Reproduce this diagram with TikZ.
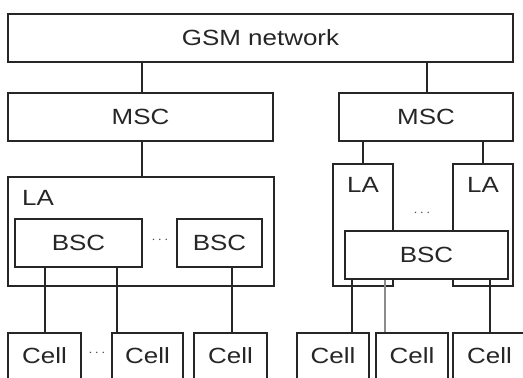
\documentclass[tikz,border=0pt]{standalone}
\usepackage{fontspec}
\setmainfont{Liberation Sans}[FakeStretch=1.18]
\begin{document}
\begin{tikzpicture}[x=1pt,y=-1pt,
  box/.style={draw=black!85,line width=1.2pt,fill=white,inner sep=0pt,font=\fontsize{22}{25}\selectfont,text=black!85},
  cellbox/.style={box,minimum height=62pt,text height=30pt,text depth=32pt},
  lab/.style={inner sep=0pt,font=\fontsize{22}{25}\selectfont,text=black!85},
  link/.style={draw=black!85,line width=1.2pt},
  dots/.style={inner sep=0pt,font=\fontsize{14}{16}\selectfont,text=black!70}]
\clip (0,0) rectangle (523,378);
\fill[white] (0,0) rectangle (523,378);
% top
\node[box,minimum width=505pt,minimum height=48pt] (gsm) at (260.5,38) {GSM network};
\node[box,minimum width=265pt,minimum height=48pt] (mscl) at (140.5,117) {MSC};
\node[box,minimum width=174pt,minimum height=48pt] (mscr) at (426,117) {MSC};
% left LA
\node[box,minimum width=266pt,minimum height=109pt] (lal) at (141,231.5) {};
\node[lab,anchor=west] (lallab) at (22,198) {LA};
\node[box,minimum width=127pt,minimum height=48pt] (bsc1) at (78.5,243) {BSC};
\node[box,minimum width=85pt,minimum height=48pt] (bsc2) at (219.5,243) {BSC};
\node[dots] (dl) at (160,240) {$\cdots$};
% right LAs
\node[box,minimum width=60pt,minimum height=122pt] (lar1) at (363,225) {};
\node[box,minimum width=60pt,minimum height=122pt] (lar2) at (483,225) {};
\node[lab] (lar1lab) at (363,185) {LA};
\node[lab] (lar2lab) at (483,185) {LA};
\node[dots] (dr) at (422,213) {$\cdots$};
\node[box,minimum width=163pt,minimum height=48pt] (bscr) at (426.5,255) {BSC};
% cells
\node[cellbox,minimum width=73pt] (c1) at (44.5,364) {Cell};
\node[cellbox,minimum width=71pt] (c2) at (147.5,364) {Cell};
\node[cellbox,minimum width=73pt] (c3) at (230.5,364) {Cell};
\node[cellbox,minimum width=72pt] (c4) at (333,364) {Cell};
\node[cellbox,minimum width=72pt] (c5) at (412,364) {Cell};
\node[cellbox,minimum width=73pt] (c6) at (489.5,364) {Cell};
\node[dots] (dc) at (97,353) {$\cdots$};
% connector x positions
\coordinate (xg1) at (142,0);
\coordinate (xg2) at (427,0);
\coordinate (xa) at (45,0);
\coordinate (xb) at (117,0);
\coordinate (xc) at (232,0);
\coordinate (xd) at (352,0);
\coordinate (xe) at (385,0);
\coordinate (xf) at (490,0);
% connectors
\draw[link] (gsm.south -| xg1) -- (mscl.north -| xg1);
\draw[link] (gsm.south -| xg2) -- (mscr.north -| xg2);
\draw[link] (mscl.south -| xg1) -- (lal.north -| xg1);
\draw[link] (mscr.south -| lar1.north) -- (lar1.north);
\draw[link] (mscr.south -| lar2.north) -- (lar2.north);
\draw[link] (bsc1.south -| xa) -- (c1.north -| xa);
\draw[link] (bsc1.south -| xb) -- (c2.north -| xb);
\draw[link] (bsc2.south -| xc) -- (c3.north -| xc);
\draw[link] (bscr.south -| xd) -- (c4.north -| xd);
\draw[link,draw=black!45,line width=1.4pt] (bscr.south -| xe) -- (c5.north -| xe);
\draw[link] (bscr.south -| xf) -- (c6.north -| xf);
\end{tikzpicture}
\end{document}
